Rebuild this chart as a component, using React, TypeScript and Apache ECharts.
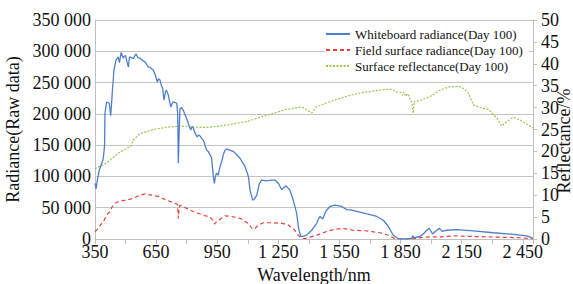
import React, { useEffect, useRef } from "react";
import * as echarts from "echarts";

// Whiteboard radiance (Day 100) – wavelength (nm) / raw radiance
const whiteWl = [350, 355, 362, 371, 383, 389, 394, 397, 399, 407, 420, 424, 427, 431, 435, 443, 453, 464, 470, 478, 489, 494, 500, 507, 514, 519, 525, 538, 551, 560, 571, 585, 595, 605, 612, 625, 636, 646, 656, 662, 669, 676, 682, 689, 694, 699, 705, 710, 716, 722, 728, 734, 745, 751, 756, 759, 763, 767, 775, 783, 790, 797, 808, 815, 820, 827, 833, 840, 852, 858, 865, 875, 882, 890, 898, 906, 915, 922, 931, 936, 941, 947, 955, 963, 972, 980, 988, 996, 1004, 1029, 1062, 1086, 1103, 1111, 1124, 1133, 1144, 1157, 1168, 1193, 1215, 1234, 1250, 1266, 1277, 1288, 1307, 1323, 1340, 1348, 1353, 1361, 1375, 1389, 1414, 1438, 1450, 1455, 1468, 1480, 1487, 1504, 1528, 1561, 1586, 1610, 1635, 1660, 1684, 1710, 1733, 1765, 1790, 1814, 1839, 1860, 1880, 1904, 1910, 1915, 1945, 1965, 1978, 1991, 2000, 2007, 2020, 2040, 2056, 2076, 2125, 2207, 2305, 2403, 2469, 2500];
const whiteRad = [89000, 80000, 95000, 110000, 121000, 126000, 139000, 150000, 201000, 219000, 217000, 205000, 197000, 215000, 235000, 270000, 286000, 291000, 282000, 298000, 289000, 292000, 293000, 283000, 275000, 290000, 291000, 288000, 296000, 290000, 289000, 285000, 283000, 278000, 275000, 273000, 270000, 262000, 251000, 256000, 254000, 245000, 241000, 222000, 232000, 238000, 234000, 230000, 220000, 211000, 216000, 219000, 218000, 217000, 200000, 121000, 170000, 208000, 210000, 206000, 200000, 195000, 185000, 178000, 174000, 180000, 177000, 170000, 163000, 166000, 165000, 160000, 158000, 150000, 142000, 140000, 134000, 130000, 99600, 89000, 100000, 105000, 102000, 115000, 124000, 135000, 142000, 144000, 143000, 140000, 129000, 116000, 100000, 78000, 62000, 64000, 70000, 89000, 94000, 93000, 94000, 94000, 89000, 79000, 82000, 85000, 78000, 62000, 41000, 20000, 12000, 3700, 4500, 6400, 14000, 25000, 34000, 36000, 32000, 42000, 46000, 52000, 54000, 52000, 47000, 46000, 44000, 42000, 40000, 38000, 36000, 30000, 20000, 6000, 500, 0, 0, 1000, 5000, 2000, 4000, 9000, 14000, 17000, 12000, 8000, 12000, 17000, 12000, 14000, 15000, 13000, 10000, 7500, 5000, 1000];

// Field surface radiance (Day 100)
const fieldWl = [350, 366, 383, 395, 407, 424, 435, 448, 473, 506, 538, 571, 595, 628, 661, 702, 743, 755, 759, 763, 767, 800, 833, 882, 915, 928, 936, 945, 956, 988, 1021, 1062, 1103, 1124, 1135, 1152, 1176, 1225, 1291, 1323, 1348, 1365, 1380, 1389, 1438, 1487, 1528, 1569, 1618, 1684, 1749, 1790, 1823, 1860, 1890, 1912, 1962, 2003, 2044, 2109, 2207, 2322, 2436, 2500];
const fieldRad = [11700, 17000, 25000, 30000, 38000, 44000, 52000, 57000, 61000, 62000, 65000, 70000, 72000, 70000, 68000, 62000, 57000, 55000, 33000, 50000, 54000, 49000, 44000, 38000, 35000, 30000, 24000, 27000, 30000, 37000, 36000, 33000, 25000, 15500, 17000, 22000, 26000, 26000, 24000, 17000, 6000, 1000, 500, 1600, 6000, 12000, 15500, 17000, 14000, 13000, 10000, 6000, 500, 0, 0, 500, 2700, 3500, 3500, 5000, 4000, 3000, 2000, 500];

// Surface reflectance (Day 100), %
const reflWl = [350, 391, 424, 464, 506, 527, 538, 571, 600, 636, 702, 767, 816, 865, 906, 964, 1029, 1095, 1160, 1225, 1291, 1356, 1373, 1397, 1414, 1438, 1487, 1553, 1618, 1684, 1749, 1798, 1814, 1830, 1850, 1860, 1866, 1875, 1885, 1896, 1905, 1912, 1917, 1921, 1945, 1994, 2044, 2093, 2142, 2165, 2183, 2207, 2240, 2281, 2322, 2346, 2371, 2403, 2436, 2477, 2500];
const reflPct = [16.1, 16.9, 18.0, 19.6, 20.7, 21.2, 22.6, 24.1, 24.5, 25.0, 25.5, 25.8, 25.6, 25.5, 25.5, 25.8, 26.3, 26.8, 27.8, 28.7, 29.6, 30.1, 30.0, 29.3, 28.8, 30.2, 31.1, 32.1, 33.0, 33.6, 34.0, 34.2, 34.0, 33.6, 33.5, 32.8, 33.6, 32.6, 33.2, 32.1, 31.2, 28.7, 31.5, 31.3, 31.6, 32.5, 34.0, 34.8, 34.8, 34.2, 33.3, 30.6, 30.0, 29.6, 27.6, 25.8, 26.8, 27.8, 27.2, 26.0, 25.3];

const seriesNames = ["Whiteboard radiance(Day 100)", "Field surface radiance(Day 100)", "Surface reflectance(Day 100)"];

const FONT = "'Liberation Serif', 'Times New Roman', serif";
const AXIS_GRAY = "#bfbfbf";

const fmt = (v: number) => String(v).replace(/\B(?=(\d{3})+(?!\d))/g, " ");
const pairs = (xs: number[], ys: number[]) => xs.map((x, i) => [x, ys[i]]);

export default function App() {
  const ref = useRef<HTMLDivElement>(null);
  useEffect(() => {
    if (!ref.current) return;
    const chart = echarts.init(ref.current, null, { renderer: "svg" });
    chart.setOption({
      animation: false,
      backgroundColor: "#fff",
      grid: { left: 95, right: 40, top: 20, bottom: 45, containLabel: false, outerBoundsMode: "none" },
      legend: {
        data: seriesNames,
        orient: "vertical",
        left: 325,
        top: 23,
        padding: [3, 6, 3, 0],
        itemGap: 0,
        itemWidth: 24,
        itemHeight: 10,
        backgroundColor: "#fff",
        itemStyle: { opacity: 0 },
        textStyle: { fontFamily: FONT, fontSize: 13, lineHeight: 16, color: "#111" },
      },
      xAxis: {
        type: "value",
        min: 350,
        max: 2500,
        interval: 150,
        name: "Wavelength/nm",
        nameLocation: "middle",
        nameGap: 24,
        nameTextStyle: { fontFamily: FONT, fontSize: 18, color: "#111" },
        axisLine: { show: true, lineStyle: { color: AXIS_GRAY, width: 1 } },
        axisTick: { show: true, length: 5, lineStyle: { color: AXIS_GRAY } },
        splitLine: { show: false },
        axisLabel: {
          fontFamily: FONT,
          fontSize: 18,
          color: "#111",
          margin: 4,
          formatter: (v: number) => ((v - 350) % 300 === 0 ? fmt(v) : ""),
        },
      },
      yAxis: [
        {
          type: "value",
          min: 0,
          max: 350000,
          interval: 50000,
          name: "Radiance(Raw data)",
          nameLocation: "middle",
          nameGap: 69,
          nameTextStyle: { fontFamily: FONT, fontSize: 18, color: "#111" },
          axisLine: { show: true, lineStyle: { color: AXIS_GRAY } },
          axisTick: { show: false },
          splitLine: { show: true, lineStyle: { color: "#c4c4c4", width: 1 } },
          axisLabel: { fontFamily: FONT, fontSize: 18, color: "#111", margin: 4, formatter: (v: number) => fmt(v) },
        },
        {
          type: "value",
          min: 0,
          max: 50,
          interval: 5,
          position: "right",
          axisLine: { show: true, lineStyle: { color: AXIS_GRAY } },
          axisTick: { show: true, length: 4, lineStyle: { color: AXIS_GRAY } },
          splitLine: { show: false },
          axisLabel: { fontFamily: FONT, fontSize: 18, color: "#111", margin: 8 },
        },
      ],
      graphic: [
        {
          type: "text",
          x: 564,
          y: 141,
          rotation: Math.PI / 2,
          style: {
            text: "Reflectance/%",
            font: `18px ${FONT}`,
            fill: "#111",
            align: "center",
            verticalAlign: "middle",
          },
        },
      ],
      series: [
        {
          name: seriesNames[0],
          type: "line",
          yAxisIndex: 0,
          data: pairs(whiteWl, whiteRad),
          showSymbol: false,
          symbol: "none",
          lineStyle: { color: "#4f7fcc", width: 1.3 },
          itemStyle: { color: "#4f7fcc" },
          z: 3,
        },
        {
          name: seriesNames[1],
          type: "line",
          yAxisIndex: 0,
          data: pairs(fieldWl, fieldRad),
          showSymbol: false,
          symbol: "none",
          lineStyle: { color: "#e8413e", width: 1.2, type: [4, 3] },
          itemStyle: { color: "#e8413e" },
          z: 2,
        },
        {
          name: seriesNames[2],
          type: "line",
          yAxisIndex: 1,
          data: pairs(reflWl, reflPct),
          showSymbol: false,
          symbol: "none",
          lineStyle: { color: "#9dc34f", width: 1.2, type: [2, 1.5] },
          itemStyle: { color: "#9dc34f" },
          z: 2,
        },
      ],
    });
    return () => chart.dispose();
  }, []);
  return <div ref={ref} style={{ width: 573, height: 284, position: "absolute", left: 0, top: 0 }} />;
}
